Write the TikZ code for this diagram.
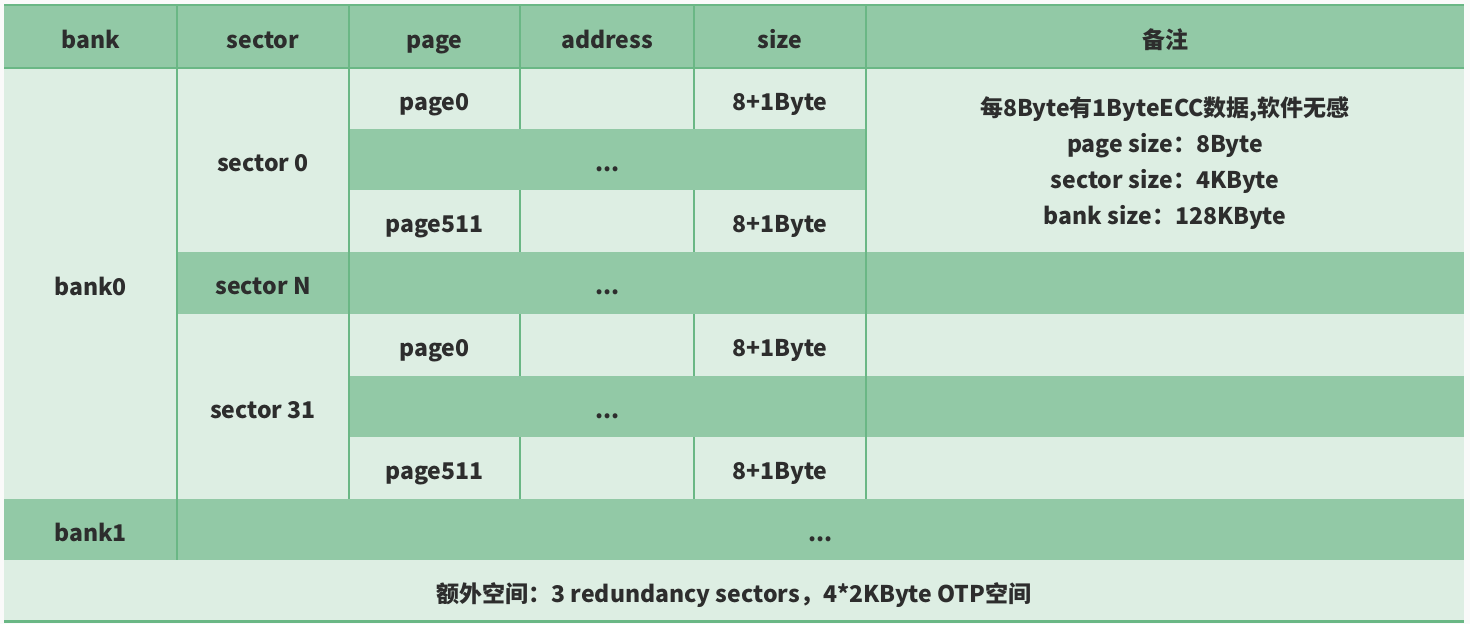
\documentclass[tikz,border=0pt]{standalone}
\usepackage{fontspec}
\setmainfont{Noto Sans CJK SC}
\definecolor{hd}{RGB}{146,201,166}
\definecolor{lt}{RGB}{221,238,227}
\definecolor{ln}{RGB}{106,183,133}
\definecolor{tx}{RGB}{45,45,45}
\definecolor{bgc}{RGB}{250,250,250}
\newcommand\mycell[7]{%
  \fill[#6] (#2,#3) rectangle (#4,#5);
  \node[txt] (#1) at ({(#2+#4)/2},{(#3+#5)/2+6}) {#7};}
\begin{document}
\begin{tikzpicture}[x=1pt,y=-1pt,
  basetxt/.style={font=\bfseries\fontsize{23}{36}\selectfont, text=tx, inner sep=0pt, align=center},
  txt/.style={basetxt, text height=16pt, text depth=5pt},
  notetxt/.style={basetxt},
  grid/.style={draw=ln, line width=1.6pt},
  hgrid/.style={draw=ln, line width=2.2pt}]
\fill[bgc] (0,0) rectangle (1470,624);
\useasboundingbox (0,0) rectangle (1470,624);
% header
\mycell{hbank}{4}{5}{177}{68}{hd}{bank}
\mycell{hsector}{177}{5}{349}{68}{hd}{sector}
\mycell{hpage}{349}{5}{520}{68}{hd}{page}
\mycell{haddr}{520}{5}{694}{68}{hd}{address}
\mycell{hsize}{694}{5}{866}{68}{hd}{size}
\mycell{hnote}{866}{5}{1464}{68}{hd}{备注}
% bank0 / sector0
\mycell{bankzero}{4}{68}{177}{499}{lt}{bank0}
\mycell{seczero}{177}{68}{349}{252}{lt}{sector 0}
\mycell{pa}{349}{68}{520}{129}{lt}{page0}
\mycell{aa}{520}{68}{694}{129}{lt}{}
\mycell{sa}{694}{68}{866}{129}{lt}{8+1Byte}
\fill[lt] (866,68) rectangle (1464,252);
\node[notetxt] (note) at (1165,163) {每8Byte有1ByteECC数据,软件无感\\page size：8Byte\\sector size：4KByte\\bank size：128KByte};
\mycell{da}{349}{129}{866}{190}{hd}{...}
\mycell{pb}{349}{190}{520}{252}{lt}{page511}
\mycell{ab}{520}{190}{694}{252}{lt}{}
\mycell{sb}{694}{190}{866}{252}{lt}{8+1Byte}
% sector N
\mycell{secn}{177}{252}{349}{314}{hd}{sector N}
\mycell{db}{349}{252}{866}{314}{hd}{...}
\mycell{nb}{866}{252}{1464}{314}{hd}{}
% sector 31
\mycell{secl}{177}{314}{349}{499}{lt}{sector 31}
\mycell{pc}{349}{314}{520}{376}{lt}{page0}
\mycell{ac}{520}{314}{694}{376}{lt}{}
\mycell{sc}{694}{314}{866}{376}{lt}{8+1Byte}
\mycell{nc}{866}{314}{1464}{376}{lt}{}
\mycell{dc}{349}{376}{866}{437}{hd}{...}
\mycell{nd}{866}{376}{1464}{437}{hd}{}
\mycell{pd}{349}{437}{520}{499}{lt}{page511}
\mycell{ad}{520}{437}{694}{499}{lt}{}
\mycell{sd}{694}{437}{866}{499}{lt}{8+1Byte}
\mycell{ne}{866}{437}{1464}{499}{lt}{}
% bank1
\mycell{bankone}{4}{499}{177}{560}{hd}{bank1}
\mycell{dd}{177}{499}{1464}{560}{hd}{...}
% footer
\mycell{foot}{4}{560}{1464}{622}{lt}{额外空间：3 redundancy sectors，4*2KByte OTP空间}
% grid lines
\draw[hgrid] (4,5) -- (1464,5);
\draw[hgrid] (4,68) -- (1464,68);
\draw[hgrid] (4,621.5) -- (1464,621.5);
\draw[grid] (177,5) -- (177,560);
\draw[grid] (349,5) -- (349,499);
\draw[grid] (866,5) -- (866,499);
\foreach \xx in {520,694}{
  \draw[grid] (\xx,5) -- (\xx,129);
  \draw[grid] (\xx,190) -- (\xx,252);
  \draw[grid] (\xx,314) -- (\xx,376);
  \draw[grid] (\xx,437) -- (\xx,499);
}
\end{tikzpicture}
\end{document}
